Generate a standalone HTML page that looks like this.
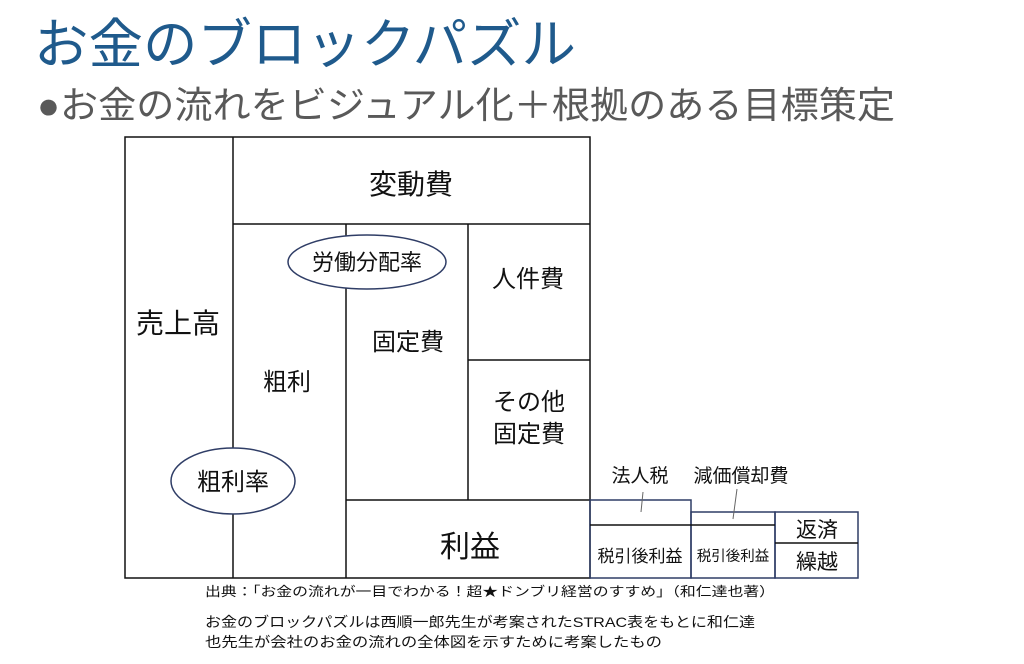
<!DOCTYPE html>
<html><head><meta charset="utf-8"><style>
html,body{margin:0;padding:0;background:#fff;width:1024px;height:664px;overflow:hidden}
svg{display:block}
text{font-family:"Liberation Sans","Noto Sans CJK JP",sans-serif}
</style></head><body>
<svg width="1024" height="664" viewBox="0 0 1024 664" xmlns="http://www.w3.org/2000/svg">
<text x="34" y="63" font-size="54" fill="#1f5a8c" textLength="542" lengthAdjust="spacingAndGlyphs">お金のブロックパズル</text>
<text x="37" y="118" font-size="37" fill="#595959" textLength="858" lengthAdjust="spacingAndGlyphs">●お金の流れをビジュアル化＋根拠のある目標策定</text>
<g stroke="#111" stroke-width="1.5" fill="none">
<rect x="125" y="137" width="465" height="441"/>
<line x1="233" y1="137" x2="233" y2="578"/>
<line x1="233" y1="224" x2="590" y2="224"/>
<line x1="346" y1="224" x2="346" y2="578"/>
<line x1="468" y1="224" x2="468" y2="500"/>
<line x1="468" y1="360" x2="590" y2="360"/>
<line x1="346" y1="500" x2="590" y2="500"/>
</g>
<g stroke="#2f3d66" stroke-width="1.5" fill="none">
<rect x="590" y="500" width="101" height="78"/>
<rect x="691" y="512" width="84" height="66"/>
<rect x="775" y="512" width="83" height="66"/>
</g>
<g stroke="#111" stroke-width="1.5">
<line x1="590" y1="525" x2="775" y2="525"/>
<line x1="775" y1="543" x2="858" y2="543"/>
<line x1="643" y1="492" x2="641" y2="512" stroke="#666" stroke-width="1"/>
<line x1="737" y1="489" x2="733" y2="519" stroke="#666" stroke-width="1"/>
</g>
<ellipse cx="367" cy="262" rx="79" ry="27" fill="#fff" stroke="#2f3d66" stroke-width="1.5"/>
<ellipse cx="233" cy="481" rx="62" ry="33" fill="#fff" stroke="#2f3d66" stroke-width="1.5"/>
<g fill="#111" text-anchor="middle">
<text x="411" y="194" font-size="28">変動費</text>
<text x="178" y="333" font-size="28">売上高</text>
<text x="287" y="390" font-size="24">粗利</text>
<text x="367" y="270" font-size="22">労働分配率</text>
<text x="233" y="490" font-size="24">粗利率</text>
<text x="528" y="287" font-size="24">人件費</text>
<text x="408" y="350" font-size="24">固定費</text>
<text x="529" y="410" font-size="24">その他</text>
<text x="529" y="442" font-size="24">固定費</text>
<text x="470" y="557" font-size="30">利益</text>
<text x="640" y="482" font-size="19">法人税</text>
<text x="741" y="482" font-size="19">減価償却費</text>
<text x="640" y="562" font-size="17">税引後利益</text>
<text x="733" y="561" font-size="14.5">税引後利益</text>
<text x="817" y="537" font-size="21">返済</text>
<text x="817" y="569" font-size="21">繰越</text>
</g>
<text x="205" y="596" font-size="13" fill="#111" textLength="570" lengthAdjust="spacingAndGlyphs">出典：「お金の流れが一目でわかる！超★ドンブリ経営のすすめ」（和仁達也著）</text>
<text x="205" y="627" font-size="14" fill="#111" textLength="550" lengthAdjust="spacingAndGlyphs">お金のブロックパズルは西順一郎先生が考案されたSTRAC表をもとに和仁達</text>
<text x="205" y="647" font-size="14" fill="#111" textLength="457" lengthAdjust="spacingAndGlyphs">也先生が会社のお金の流れの全体図を示すために考案したもの</text>
</svg>
</body></html>
